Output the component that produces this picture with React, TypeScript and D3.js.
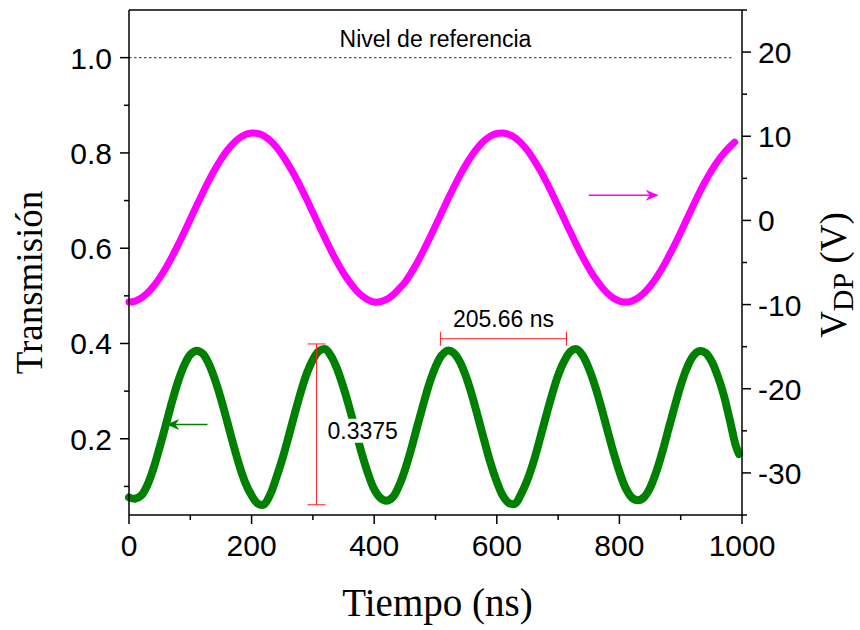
import React from 'react';
import * as d3 from 'd3';

// ---- Data ----
const timeMag = [
  0, 10, 20, 30, 40, 50, 60, 70, 80, 90,
  100, 110, 120, 130, 140, 150, 160, 170, 180, 190,
  200, 210, 220, 230, 240, 250, 260, 270, 280, 290,
  300, 310, 320, 330, 340, 350, 360, 370, 380, 390,
  400, 410, 420, 430, 440, 450, 460, 470, 480, 490,
  500, 510, 520, 530, 540, 550, 560, 570, 580, 590,
  600, 610, 620, 630, 640, 650, 660, 670, 680, 690,
  700, 710, 720, 730, 740, 750, 760, 770, 780, 790,
  800, 810, 820, 830, 840, 850, 860, 870, 880, 890,
  900, 910, 920, 930, 940, 950, 960, 970, 980, 988,
];
const vdpValues = [
  -9.70, -9.58, -9.22, -8.63, -7.82, -6.83, -5.65, -4.33, -2.91, -1.40,
  0.16, 1.72, 3.23, 4.69, 6.04, 7.26, 8.31, 9.14, 9.79, 10.21,
  10.39, 10.33, 10.05, 9.51, 8.75, 7.78, 6.63, 5.36, 3.96, 2.48,
  0.93, -0.62, -2.15, -3.64, -5.01, -6.25, -7.33, -8.25, -8.96, -9.43,
  -9.69, -9.66, -9.39, -8.89, -8.16, -7.35, -6.26, -5.03, -3.63, -2.15,
  -0.62, 0.93, 2.48, 3.97, 5.38, 6.66, 7.80, 8.74, 9.50, 10.03,
  10.33, 10.39, 10.21, 9.80, 9.15, 8.31, 7.26, 6.04, 4.69, 3.23,
  1.71, 0.16, -1.39, -2.90, -4.33, -5.65, -6.82, -7.81, -8.63, -9.22,
  -9.58, -9.70, -9.58, -9.22, -8.63, -7.82, -6.83, -5.65, -4.33, -2.91,
  -1.40, 0.16, 1.72, 3.23, 4.62, 5.90, 7.00, 7.95, 8.75, 9.30,
];

const timeTrans = [
  0, 10, 20, 30, 40, 50, 60, 70, 80, 90,
  100, 110, 120, 130, 140, 150, 160, 170, 180, 190,
  200, 210, 220, 230, 240, 250, 260, 270, 280, 290,
  300, 310, 320, 330, 340, 350, 360, 370, 380, 390,
  400, 410, 420, 430, 440, 450, 460, 470, 480, 490,
  500, 510, 520, 530, 540, 550, 560, 570, 580, 590,
  600, 610, 620, 630, 640, 650, 660, 670, 680, 690,
  700, 710, 720, 730, 740, 750, 760, 770, 780, 790,
  800, 810, 820, 830, 840, 850, 860, 870, 880, 890,
  900, 910, 920, 930, 940, 950, 960, 970, 980, 990, 995,
];
const transValues = [
  0.077, 0.074, 0.081, 0.103, 0.138, 0.182, 0.229, 0.277, 0.320, 0.354,
  0.377, 0.385, 0.379, 0.358, 0.325, 0.284, 0.237, 0.189, 0.144, 0.107,
  0.081, 0.064, 0.062, 0.082, 0.117, 0.157, 0.203, 0.251, 0.297, 0.337,
  0.366, 0.384, 0.388, 0.373, 0.345, 0.307, 0.263, 0.215, 0.168, 0.127,
  0.094, 0.076, 0.070, 0.077, 0.100, 0.134, 0.177, 0.225, 0.272, 0.316,
  0.351, 0.375, 0.385, 0.380, 0.361, 0.330, 0.289, 0.242, 0.194, 0.148,
  0.110, 0.080, 0.065, 0.064, 0.085, 0.114, 0.152, 0.198, 0.246, 0.292,
  0.333, 0.363, 0.383, 0.388, 0.375, 0.348, 0.312, 0.268, 0.220, 0.173,
  0.131, 0.097, 0.077, 0.071, 0.077, 0.097, 0.130, 0.172, 0.220, 0.267,
  0.312, 0.348, 0.373, 0.384, 0.381, 0.364, 0.333, 0.293, 0.240, 0.185, 0.168,
];

const xTicks = [0, 200, 400, 600, 800, 1000];
const xMinorTicks = [100, 300, 500, 700, 900];
const leftTicks = [0.2, 0.4, 0.6, 0.8, 1.0];
const leftMinorTicks = [0.1, 0.3, 0.5, 0.7, 0.9];
const rightTicks = [-30, -20, -10, 0, 10, 20];
const rightMinorTicks = [-35, -25, -15, -5, 5, 15, 25];

const referenceLevel = 1.0;
const periodStart = 508;
const periodEnd = 713.66;
const periodLevel = 0.41;
const periodLabel = '205.66 ns';
const amplitudeTime = 306;
const amplitudeLow = 0.0615;
const amplitudeHigh = 0.399;
const amplitudeLabel = '0.3375';

// ---- Layout ----
const W = 860;
const H = 630;
const left = 129;
const right = 742;
const top = 10;
const bottom = 515;

const SANS = "'Liberation Sans', Arial, Helvetica, sans-serif";
const SERIF = "'Liberation Serif', 'Times New Roman', Times, serif";

export default function App() {
  const x = d3.scaleLinear().domain([0, 1000]).range([left, right]);
  const yL = d3.scaleLinear().domain([0.04, 1.1]).range([bottom, top]);
  const yR = d3.scaleLinear().domain([-35, 25]).range([bottom, top]);

  const magLine = d3
    .line<number>()
    .x((_, i) => x(timeMag[i]))
    .y((d) => yR(d))
    .curve(d3.curveCatmullRom);
  const greenLine = d3
    .line<number>()
    .x((_, i) => x(timeTrans[i]))
    .y((d) => yL(d))
    .curve(d3.curveCatmullRom);

  const major = 9;
  const minor = 5;
  const axisColor = '#000';
  const red = '#ff2020';

  const arrowHead = (tipX: number, tipY: number, dir: number, color: string) => {
    const L = 13;
    const h = 5.5;
    const n = 9;
    const d = `M${tipX},${tipY} L${tipX - dir * L},${tipY - h} L${tipX - dir * n},${tipY} L${tipX - dir * L},${tipY + h} Z`;
    return <path d={d} fill={color} stroke="none" />;
  };

  const pyA = yL(amplitudeHigh);
  const pyB = yL(amplitudeLow);
  const pxA = x(amplitudeTime);
  const pY = yL(periodLevel);

  return (
    <svg
      width={W}
      height={H}
      style={{ position: 'absolute', left: 0, top: 0, background: '#fff' }}
    >
      <rect x={0} y={0} width={W} height={H} fill="#fff" />

      {/* reference level */}
      <line
        x1={x(0)}
        x2={x(985)}
        y1={yL(referenceLevel)}
        y2={yL(referenceLevel)}
        stroke="#555"
        strokeWidth={1.2}
        strokeDasharray="2.5,2.5"
      />
      <text
        x={x(500)}
        y={yL(referenceLevel) - 11}
        textAnchor="middle"
        fontFamily={SANS}
        fontSize={23}
        fill="#000"
      >
        Nivel de referencia
      </text>

      {/* curves */}
      <path d={magLine(vdpValues) || ''} fill="none" stroke="#ff00ff" strokeWidth={7} strokeLinejoin="round" strokeLinecap="round" />
      <path d={greenLine(transValues) || ''} fill="none" stroke="#008000" strokeWidth={8} strokeLinejoin="round" strokeLinecap="round" />

      {/* period annotation */}
      <line x1={x(periodStart)} x2={x(periodEnd)} y1={pY} y2={pY} stroke={red} strokeWidth={1} />
      <line x1={x(periodStart)} x2={x(periodStart)} y1={pY - 7} y2={pY + 7} stroke={red} strokeWidth={1} />
      <line x1={x(periodEnd)} x2={x(periodEnd)} y1={pY - 7} y2={pY + 7} stroke={red} strokeWidth={1} />
      <text
        x={(x(periodStart) + x(periodEnd)) / 2}
        y={pY - 12}
        textAnchor="middle"
        fontFamily={SANS}
        fontSize={23}
        fill="#000"
      >
        {periodLabel}
      </text>

      {/* amplitude annotation */}
      <line x1={pxA} x2={pxA} y1={pyA} y2={pyB} stroke={red} strokeWidth={1} />
      <line x1={pxA - 9} x2={pxA + 9} y1={pyA} y2={pyA} stroke={red} strokeWidth={1} />
      <line x1={pxA - 9} x2={pxA + 9} y1={pyB} y2={pyB} stroke={red} strokeWidth={1} />
      <rect x={pxA + 10} y={yL(0.2) - 20} width={78} height={24} fill="#fff" />
      <text x={pxA + 11} y={yL(0.2) + 0} fontFamily={SANS} fontSize={23} fill="#000">
        {amplitudeLabel}
      </text>

      {/* arrows */}
      <line x1={x(128)} x2={x(64)} y1={yL(0.23)} y2={yL(0.23)} stroke="#008000" strokeWidth={1.5} />
      {arrowHead(x(61), yL(0.23), -1, '#008000')}
      <line x1={x(750)} x2={x(860)} y1={yR(3)} y2={yR(3)} stroke="#ff00ff" strokeWidth={1.5} />
      {arrowHead(x(864), yR(3), 1, '#ff00ff')}

      {/* frame */}
      <line x1={left} x2={right} y1={top} y2={top} stroke={axisColor} strokeWidth={1.5} />
      <line x1={left} x2={right} y1={bottom} y2={bottom} stroke={axisColor} strokeWidth={1.5} />
      <line x1={left} x2={left} y1={top} y2={bottom} stroke={axisColor} strokeWidth={1.5} />
      <line x1={right} x2={right} y1={top} y2={bottom} stroke={axisColor} strokeWidth={1.5} />

      {/* x axis */}
      {xTicks.map((t) => (
        <g key={'xt' + t}>
          <line x1={x(t)} x2={x(t)} y1={bottom} y2={bottom + major} stroke={axisColor} strokeWidth={1.5} />
          <text x={x(t)} y={bottom + 41} textAnchor="middle" fontFamily={SANS} fontSize={30} fill="#000">
            {t}
          </text>
        </g>
      ))}
      {xMinorTicks.map((t) => (
        <line key={'xm' + t} x1={x(t)} x2={x(t)} y1={bottom} y2={bottom + minor} stroke={axisColor} strokeWidth={1.5} />
      ))}

      {/* left axis */}
      {leftTicks.map((t) => (
        <g key={'lt' + t}>
          <line x1={left - major} x2={left} y1={yL(t)} y2={yL(t)} stroke={axisColor} strokeWidth={1.5} />
          <text x={left - 17} y={yL(t) + 11} textAnchor="end" fontFamily={SANS} fontSize={30} fill="#000">
            {t.toFixed(1)}
          </text>
        </g>
      ))}
      {leftMinorTicks.map((t) => (
        <line key={'lm' + t} x1={left - minor} x2={left} y1={yL(t)} y2={yL(t)} stroke={axisColor} strokeWidth={1.5} />
      ))}

      {/* right axis */}
      {rightTicks.map((t) => (
        <g key={'rt' + t}>
          <line x1={right} x2={right + major} y1={yR(t)} y2={yR(t)} stroke={axisColor} strokeWidth={1.5} />
          <text x={right + 16} y={yR(t) + 11} textAnchor="start" fontFamily={SANS} fontSize={30} fill="#000">
            {t < 0 ? '-' + Math.abs(t) : String(t)}
          </text>
        </g>
      ))}
      {rightMinorTicks.map((t) => (
        <line key={'rm' + t} x1={right} x2={right + minor} y1={yR(t)} y2={yR(t)} stroke={axisColor} strokeWidth={1.5} />
      ))}

      {/* axis titles */}
      <text
        transform={`translate(42, ${(top + bottom) / 2 + 20}) rotate(-90)`}
        textAnchor="middle"
        fontFamily={SERIF}
        fontSize={37}
        fill="#000"
      >
        Transmisión
      </text>
      <text
        x={(left + right) / 2 + 2}
        y={616}
        textAnchor="middle"
        fontFamily={SERIF}
        fontSize={39}
        fill="#000"
      >
        Tiempo (ns)
      </text>
      <text
        transform={`translate(846, 275) rotate(-90)`}
        textAnchor="middle"
        fontFamily={SERIF}
        fontSize={37}
        fill="#000"
      >
        V<tspan fontSize={30} dy={7}>DP</tspan>
        <tspan dy={-7}> (V)</tspan>
      </text>
    </svg>
  );
}
